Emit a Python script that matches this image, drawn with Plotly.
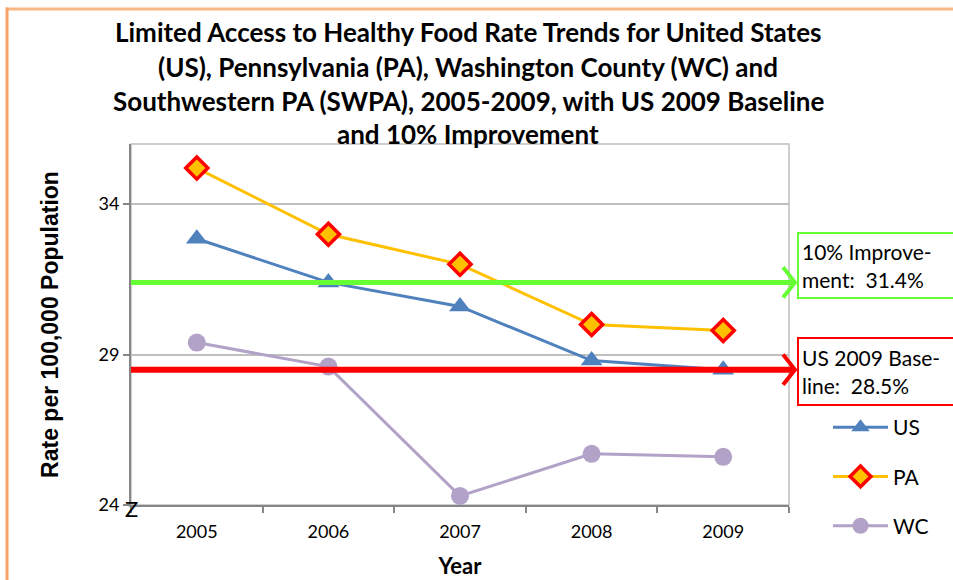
import plotly.graph_objects as go

# Limited access to healthy food, rate per 100,000 population
years = ["2005", "2006", "2007", "2008", "2009"]
us_rate = [32.85, 31.4, 30.6, 28.8, 28.5]
pa_rate = [35.2, 33.0, 32.0, 30.0, 29.8]
wc_rate = [29.4, 28.6, 24.3, 25.7, 25.6]

baseline_2009 = 28.5        # US 2009 baseline
improvement_target = 31.4   # 10% improvement

y_ticks = [24, 29, 34]
y_range = [24, 36]

title_lines = [
    "Limited Access to Healthy Food Rate Trends for United States",
    "(US), Pennsylvania (PA), Washington County (WC) and",
    "Southwestern PA (SWPA), 2005-2009, with US 2009 Baseline",
    "and 10% Improvement",
]

FONT = "Lato"
GREEN = "#66FF33"
RED = "#FF0000"

fig = go.Figure()

fig.add_trace(go.Scatter(
    x=years, y=us_rate, name="US", mode="lines+markers", legendgroup="us",
    line=dict(color="#4F81BD", width=3),
    marker=dict(symbol="triangle-up", size=19, color="#4F81BD"),
))
fig.add_trace(go.Scatter(
    x=years, y=pa_rate, name="PA", mode="lines+markers", legendgroup="pa",
    line=dict(color="#FFC000", width=3),
    marker=dict(symbol="diamond", size=17, color="#FFC000",
                line=dict(color=RED, width=3.5)),
))
fig.add_trace(go.Scatter(
    x=years, y=wc_rate, name="WC", mode="lines+markers", legendgroup="wc",
    line=dict(color="#B3A2C7", width=3),
    marker=dict(symbol="circle", size=18, color="#B3A2C7"),
))

shapes = [
    # plot-area frame (top and right edges)
    dict(type="rect", xref="paper", yref="paper", x0=0, x1=1, y0=0, y1=1,
         line=dict(color="#BFBFBF", width=1.5), layer="below"),
    # outer chart frame
    dict(type="line", xref="paper", yref="paper", x0=-0.19, x1=1.26,
         y0=1.374, y1=1.374, line=dict(color="#F9B785", width=3)),
    dict(type="line", xref="paper", yref="paper", x0=-0.1884, x1=-0.1884,
         y0=1.378, y1=-0.22, line=dict(color="#F7A365", width=3)),
]

# reference lines with open arrowheads
for val, col, w in [(improvement_target, GREEN, 5), (baseline_2009, RED, 6)]:
    shapes.append(dict(type="line", xref="paper", yref="y", x0=0, x1=1.006,
                       y0=val, y1=val, line=dict(color=col, width=w)))
    shapes.append(dict(type="path", xref="paper", yref="y",
                       path=f"M 0.991,{val + 0.5} L 1.009,{val} L 0.991,{val - 0.5}",
                       line=dict(color=col, width=4)))

annotations = []
title_y_px = [32, 67, 101, 134]
for line, ypx in zip(title_lines, title_y_px):
    annotations.append(dict(
        text=f"<b>{line}</b>", xref="paper", yref="paper",
        x=(468 - 131) / 658, y=(505 - ypx) / 361,
        xanchor="center", yanchor="middle", showarrow=False,
        font=dict(family=FONT, size=26, color="#000000"),
    ))

annotations.append(dict(
    text=f"10% Improve-<br>ment:  {improvement_target}%",
    xref="paper", yref="paper", x=(797 - 131) / 658, y=(505 - 265) / 361,
    xanchor="left", yanchor="middle", align="left", showarrow=False,
    width=175, height=57, borderpad=3, bordercolor=GREEN, borderwidth=2,
    bgcolor="#FFFFFF", font=dict(family=FONT, size=21, color="#000000"),
))
annotations.append(dict(
    text=f"US 2009 Base-<br>line:  {baseline_2009}%",
    xref="paper", yref="paper", x=(797 - 131) / 658, y=(505 - 371) / 361,
    xanchor="left", yanchor="middle", align="left", showarrow=False,
    width=175, height=59, borderpad=3, bordercolor=RED, borderwidth=2,
    bgcolor="#FFFFFF", font=dict(family=FONT, size=21, color="#000000"),
))
# axis break mark
annotations.append(dict(
    text="Z", xref="paper", yref="y", x=0, y=y_range[0],
    xanchor="center", yanchor="middle", yshift=-3, showarrow=False,
    font=dict(family=FONT, size=22, color="#000000"),
))

fig.update_layout(
    width=953, height=580,
    margin=dict(l=131, r=164, t=144, b=75, autoexpand=False),
    paper_bgcolor="#FFFFFF", plot_bgcolor="#FFFFFF",
    font=dict(family=FONT, color="#000000"),
    shapes=shapes, annotations=annotations,
    legend=dict(
        x=(828 - 131) / 658, y=(505 - 407) / 361, xanchor="left", yanchor="top",
        font=dict(family=FONT, size=21, color="#000000"),
        tracegroupgap=19, itemwidth=55, bgcolor="rgba(0,0,0,0)",
    ),
    xaxis=dict(
        type="category", range=[-0.5, 4.5], automargin=False,
        showline=True, linecolor="#868686", linewidth=2,
        ticks="outside", tickson="boundaries", ticklen=6, tickcolor="#868686",
        tickwidth=1.5, showgrid=False, ticklabelstandoff=9,
        tickfont=dict(family=FONT, size=18, color="#000000"),
        title=dict(text="<b>Year</b>", font=dict(family=FONT, size=22),
                   standoff=18),
    ),
    yaxis=dict(
        range=y_range, tickvals=y_ticks, automargin=False,
        showline=True, linecolor="#868686", linewidth=2,
        ticks="outside", ticklen=6, tickcolor="#868686", tickwidth=1.5,
        showgrid=True, gridcolor="#BFBFBF", gridwidth=1.5, zeroline=False,
        tickfont=dict(family=FONT, size=18, color="#000000"),
        title=dict(text="<b>Rate per 100,000 Population</b>",
                   font=dict(family="Liberation Sans", size=23), standoff=33),
    ),
)

fig.write_html("out.html")
